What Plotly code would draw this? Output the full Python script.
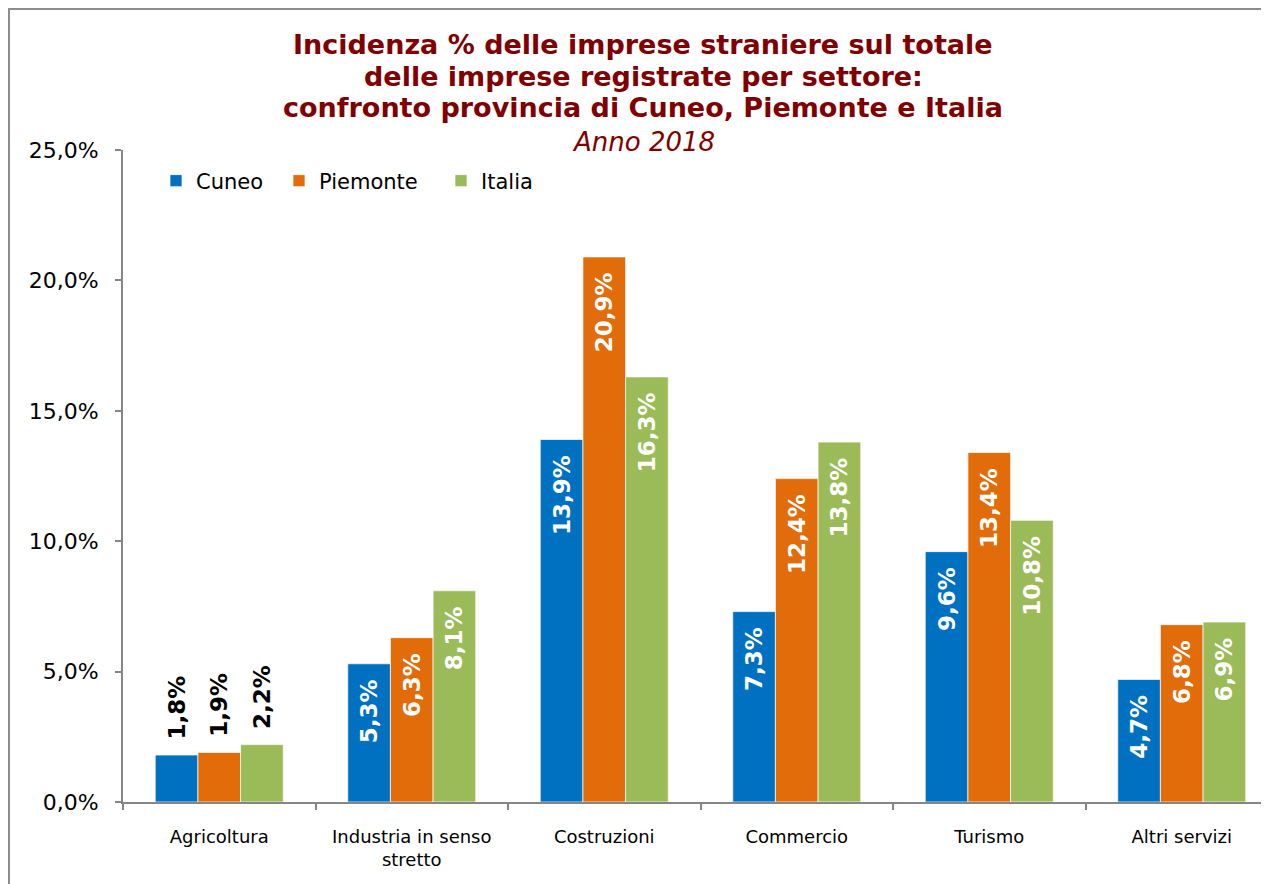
import plotly.graph_objects as go

categories = ["Agricoltura", "Industria in senso<br>stretto", "Costruzioni",
              "Commercio", "Turismo", "Altri servizi"]
cuneo = [1.8, 5.3, 13.9, 7.3, 9.6, 4.7]
piemonte = [1.9, 6.3, 20.9, 12.4, 13.4, 6.8]
italia = [2.2, 8.1, 16.3, 13.8, 10.8, 6.9]
series_names = ["Cuneo", "Piemonte", "Italia"]
series_values = [cuneo, piemonte, italia]
colors = ["#0070C0", "#E36C0A", "#9BBB59"]
y_ticks = [0, 5, 10, 15, 20, 25]
y_ticktext = [f"{v:.1f}".replace(".", ",") + "%" for v in y_ticks]
title_lines = ["Incidenza % delle imprese straniere sul totale",
               "delle imprese registrate per settore:",
               "confronto provincia di Cuneo, Piemonte e Italia"]
subtitle = "Anno 2018"

FONT = "DejaVu Sans"
NB = "\u00a0"
TH = "\u2009"

# page has an 8px body margin: figure coords = page coords - 8
W, H = 1269, 884
L, R, T, B = 115, 8, 142, 90
pw = W - L - R
ph = H - T - B
cat_px = 192.5


def py(fig_y):
    return (H - B - fig_y) / ph


def px(fig_x):
    return (fig_x - L) / pw


fig = go.Figure()
legend_x_fig = [148, 271, 433]
for i, (name, vals, col) in enumerate(zip(series_names, series_values, colors)):
    texts, pos = [], []
    for v in vals:
        lab = f"{v:.1f}".replace(".", ",") + "%"
        if v < 3:
            texts.append(NB + TH + lab)
            pos.append("outside")
        else:
            texts.append(lab + NB + TH)
            pos.append("inside")
    leg = "legend" if i == 0 else f"legend{i+1}"
    fig.add_trace(go.Bar(
        x=categories, y=vals, name=name,
        marker=dict(color=col, line=dict(color="rgba(255,255,255,0.7)", width=1)),
        text=texts, textposition=pos, textangle=-90,
        insidetextanchor="end", constraintext="none",
        outsidetextfont=dict(family=FONT, size=23, color="#000000", weight="bold"),
        insidetextfont=dict(family=FONT, size=23, color="#FFFFFF", weight="bold"),
        cliponaxis=False,
        legend=leg,
        hoverinfo="skip",
    ))

legends = {}
for i, xf in enumerate(legend_x_fig):
    key = "legend" if i == 0 else f"legend{i+1}"
    legends[key] = dict(
        x=px(xf), y=py(173), xanchor="left", yanchor="middle",
        orientation="h", font=dict(family=FONT, size=21, color="#000000"),
        bgcolor="rgba(0,0,0,0)", borderwidth=0, itemwidth=30,
        itemclick=False, itemdoubleclick=False,
    )

annotations = []
title_centers = [37, 68, 100]
cx = px(643 - 8)
for line, yc in zip(title_lines, title_centers):
    annotations.append(dict(
        text=f"<b>{line}</b>", xref="paper", yref="paper",
        x=cx, y=py(yc), xanchor="center", yanchor="middle",
        showarrow=False, font=dict(family=FONT, size=27, color="#800000")))
annotations.append(dict(
    text=f"<i>{subtitle}</i>", xref="paper", yref="paper",
    x=cx, y=py(134), xanchor="center", yanchor="middle",
    showarrow=False, font=dict(family=FONT, size=26, color="#800000")))

fig.update_layout(
    width=W, height=H,
    margin=dict(l=L, r=R, t=T, b=B, autoexpand=False),
    paper_bgcolor="#FFFFFF", plot_bgcolor="#FFFFFF",
    separators=",.",
    barmode="group", bargap=1 - 128 / cat_px, bargroupgap=0,
    showlegend=True,
    xaxis=dict(range=[-0.5, -0.5 + pw / cat_px], showgrid=False,
               showline=True, linecolor="#868686", linewidth=2,
               ticks="outside", tickson="boundaries", ticklen=6,
               tickcolor="#868686", tickwidth=2,
               tickfont=dict(family=FONT, size=18, color="#000000"),
               ticklabelstandoff=17, fixedrange=True),
    yaxis=dict(range=[0, 25], tickvals=y_ticks, ticktext=y_ticktext,
               showgrid=False, zeroline=False,
               showline=True, linecolor="#868686", linewidth=2,
               ticks="outside", ticklen=6, tickcolor="#868686", tickwidth=2,
               tickfont=dict(family=FONT, size=22, color="#000000"),
               ticklabelstandoff=12, fixedrange=True),
    annotations=annotations,
    shapes=[dict(type="rect", xref="paper", yref="paper",
                 x0=px(1), x1=px(W + 20), y0=py(H + 20), y1=py(1),
                 line=dict(color="#8C8C8C", width=2), fillcolor="rgba(0,0,0,0)",
                 layer="below")],
    **legends,
)

fig.write_html("out.html", config={"displayModeBar": False})
